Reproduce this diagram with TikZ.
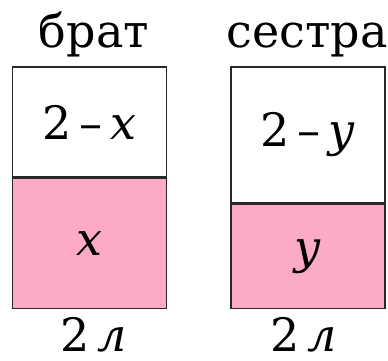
\documentclass[tikz,border=0pt]{standalone}
\usepackage{fontspec}
\setmainfont{DejaVu Serif}
\definecolor{jugpink}{RGB}{252,170,199}
\definecolor{jugline}{RGB}{40,40,40}
\usetikzlibrary{positioning}

\begin{document}
\begin{tikzpicture}[
  x=1pt,y=-1pt,
  every node/.style={font=\fontsize{46}{56}\selectfont},
  part/.style={draw=jugline,line width=1.6pt,minimum width=154pt,inner sep=0pt},
  caption/.style={anchor=base,inner sep=0pt},
]
  \useasboundingbox (0,0) rectangle (388,361);

  % Titles
  \node[caption] (brotherName) at (94,48) {брат};
  \node[caption] (sisterName) at (307,48) {сестра};

  % Brother's jug
  \node[part,fill=white,minimum height=110pt] (brotherTop) at (89.5,122)
    {2\hspace{8pt}–\hspace{8pt}\textit{x}};
  \node[part,fill=jugpink,minimum height=130pt,below=0pt of brotherTop] (brotherLow) {\textit{x}};

  % Sister's jug
  \node[part,fill=white,minimum height=136pt] (sisterTop) at (308,135)
    {2\hspace{8pt}–\hspace{8pt}\textit{y}};
  \node[part,fill=jugpink,minimum height=104pt,below=0pt of sisterTop] (sisterLow) {\textit{y}};

  % Volumes
  \node[caption] (brotherVol) at (94,351) {2\hspace{8pt}\textit{л}};
  \node[caption] (sisterVol) at (304,351) {2\hspace{8pt}\textit{л}};
\end{tikzpicture}
\end{document}
